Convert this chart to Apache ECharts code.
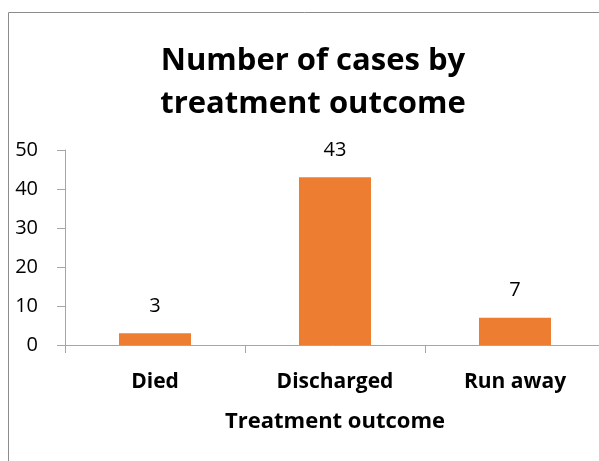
<!DOCTYPE html>
<html>
<head>
<meta charset="utf-8">
<script src="https://cdn.jsdelivr.net/npm/echarts@6/dist/echarts.min.js"></script>
<style>
  html, body { margin: 0; padding: 0; background: #fff; }
  #main { width: 599px; height: 461px; }
</style>
</head>
<body>
<div id="main"></div>
<script>
let categories = ['Died', 'Discharged', 'Run away'];
let cases = [3, 43, 7];
let yTicks = [0, 10, 20, 30, 40, 50];

let chart = echarts.init(document.getElementById('main'));
let font = '"Open Sans", Lato, sans-serif';
option = {
    animation: false,
    textStyle: { fontFamily: font },
    graphic: [{
        type: 'rect',
        shape: { x: 8.5, y: 12.5, width: 800, height: 800 },
        style: { fill: 'none', stroke: '#8c8c8c', lineWidth: 1 },
        silent: true
    }],
    title: {
        text: 'Number of cases by\ntreatment outcome',
        left: 308,
        top: 35,
        textAlign: 'center',
        textStyle: {
            fontFamily: font,
            fontSize: 31,
            fontWeight: 'bold',
            color: '#000',
            lineHeight: 43
        }
    },
    grid: {
        left: 65,
        top: 150,
        width: 540,
        height: 195,
        outerBoundsMode: 'none'
    },
    xAxis: {
        type: 'category',
        data: categories,
        name: 'Treatment outcome',
        nameLocation: 'middle',
        nameGap: 66,
        nameTextStyle: { fontFamily: font, fontSize: 22, fontWeight: 'bold', color: '#000' },
        axisLine: { lineStyle: { color: '#a6a6a6' } },
        axisTick: { show: true, length: 8, lineStyle: { color: '#a6a6a6' } },
        axisLabel: { fontFamily: font, fontSize: 21, fontWeight: 'bold', color: '#000', margin: 27 }
    },
    yAxis: {
        type: 'value',
        min: yTicks[0],
        max: yTicks[yTicks.length - 1],
        interval: 10,
        splitLine: { show: false },
        axisLine: { show: true, lineStyle: { color: '#a6a6a6' } },
        axisTick: { show: true, length: 8, lineStyle: { color: '#a6a6a6' } },
        axisLabel: { fontFamily: font, fontSize: 20, color: '#000', margin: 27 }
    },
    series: [{
        type: 'bar',
        data: cases,
        barWidth: 72,
        itemStyle: { color: '#ED7D31' },
        label: {
            show: true,
            position: 'top',
            distance: 17,
            fontFamily: font,
            fontSize: 20,
            color: '#000'
        }
    }]
};
chart.setOption(option);
</script>
</body>
</html>
